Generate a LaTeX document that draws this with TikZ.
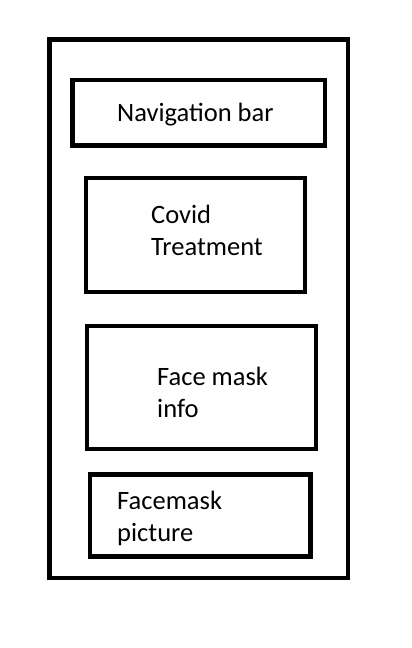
\documentclass[tikz,border=0pt]{standalone}
\usepackage{fontspec}
\setmainfont{Carlito}
\usetikzlibrary{positioning}
\tikzset{
  frame/.style={draw=black,line width=4.6pt},
  label/.style={inner sep=0pt,anchor=base west,align=left,font=\fontsize{26.5}{32}\selectfont}
}

\begin{document}
\begin{tikzpicture}[x=1pt,y=-1pt]
      \useasboundingbox (0,0) rectangle (412,648);
      \draw[frame] (49.5,39.5) rectangle (348,578);
      \foreach \xa/\ya/\xb/\yb in {72.5/80/325/145.5,86/178/305/292,87/326/316/449,90/474.5/310.5/556.5}
      \draw[frame] (\xa,\ya) rectangle (\xb,\yb);
      % base anchor sits on the last line
      \node[label] (nav) at (117,121) {Navigation bar};
      \node[label] (covid) at (151,255) {Covid\\Treatment};
      \node[label] (mask) at (157,417) {Face mask\\info};
      \node[label] (picture) at (117,541) {Facemask\\picture};
    \end{tikzpicture}
\end{document}
